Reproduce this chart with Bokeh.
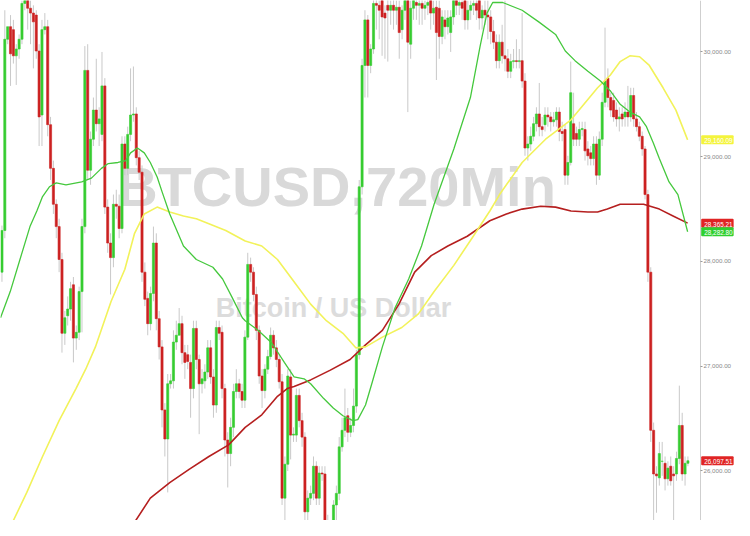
from bokeh.plotting import figure
from bokeh.models import (Range1d, FixedTicker, NumeralTickFormatter, Label, ColumnDataSource,
                          LinearAxis)
from bokeh.embed import file_html
from bokeh.resources import INLINE

# ---- candle data (BTCUSD, 720 min) ----
opens = [
 27897,28295,30120,30240,30212,29962,30027,30120,30462,30490,
 30416,30370,30351,30008,29397,30212,30240,29305,28888,28545,
 28332,28018,27314,27481,27545,27777,27268,27323,27712,28332,
 29823,28870,29166,29444,29314,29212,29675,28518,28175,28036,
 28545,28527,28314,29120,28888,29212,29397,29407,28990,28851,
 27897,27647,27406,27694,28175,27453,27184,26582,26305,26832,
 26860,27230,27295,27406,27129,27110,27036,26786,27360,27064,
 26832,26860,26944,27175,26897,26629,27369,27323,26786,26295,
 26166,26416,26758,26832,26758,26675,27277,27971,27897,27684,
 27342,26906,26767,26971,27092,27295,27175,27064,26851,25740,
 26064,26897,26342,26342,26721,26480,26323,25610,25740,25786,
 26045,25740,25980,25971,25527,25443,25397,25675,25786,26230,
 26388,26527,26369,26434,26619,27110,28712,29870,30305,29870,
 30027,30462,30444,30490,30370,30444,30397,30444,30397,30425,
 30212,30397,30490,30073,30416,30471,30444,30462,30416,30444,
 30490,30370,30425,30416,30147,30305,30240,30184,30333,30490,
 30444,30471,30490,30305,30397,30444,30462,30490,30323,30397,
 30351,30333,30194,30092,29916,30092,29962,29934,29814,29907,
 29916,29907,29916,29721,29082,29120,29194,29314,29407,29286,
 29305,29397,29379,29333,29351,29425,29240,29258,28823,28944,
 29314,29221,29166,29258,29258,29073,29036,28981,29120,28823,
 29166,29518,29749,29564,29536,29444,29360,29407,29379,29425,
 29379,29583,29360,29286,29194,29073,28638,27897,26388,25971,
 25934,26092,26073,25925,26045,25971,25971,26119,26434,25971,26073]
closes = [
 28295,30120,30240,29981,29962,30027,30120,30462,30490,30416,
 30370,30286,30008,29379,30212,30240,29305,28888,28545,28332,
 28018,27314,27462,27545,27740,27268,27323,27712,28332,29823,
 28870,29166,29444,29314,29360,29675,28518,28175,28036,28545,
 28527,28314,29120,28888,29212,29397,29407,28990,28851,27897,
 27638,27406,27694,28175,27453,27184,26582,26305,26832,26860,
 27230,27295,27406,27129,27036,27045,26786,27360,27064,26832,
 26879,26944,27175,26897,26629,27369,27314,26786,26295,26166,
 26416,26758,26832,26758,26675,27277,27971,27897,27684,27342,
 26906,26767,26971,27092,27295,27175,27064,26851,25740,26064,
 26906,26342,26351,26721,26480,26323,25610,25740,25786,26045,
 25740,25980,25971,25527,25443,25397,25675,25786,26230,26388,
 26508,26369,26434,26619,27110,28712,29870,30305,29870,30027,
 30462,30444,30397,30333,30323,30397,30444,30397,30425,30184,
 30397,30490,30092,30416,30490,30444,30462,30416,30444,30471,
 30370,30416,30184,30147,30333,30240,30323,30333,30490,30444,
 30471,30416,30305,30397,30444,30462,30397,30323,30397,30351,
 30333,30194,30092,29916,30092,29962,29934,29814,29907,29916,
 29907,29916,29721,29082,29120,29194,29314,29407,29286,29258,
 29397,29379,29333,29351,29425,29240,29221,28823,28944,29610,
 29166,29166,29258,29268,29055,29008,28981,29120,28823,29166,
 29518,29721,29564,29444,29379,29360,29379,29360,29425,29379,
 29583,29360,29286,29194,29073,28638,27897,26388,25971,25953,
 26166,26092,25925,26027,25906,25953,26119,26434,25971,26073,26097.51]
highs = [
 28342,30397,30166,30351,30305,30073,30166,30490,30536,30536,
 30490,30444,30397,30073,30305,30370,30305,29379,28962,28592,
 28407,28082,27527,27666,27805,27851,27388,27759,28407,30055,
 30073,29240,29564,29934,29471,29999,29749,28592,28268,28638,
 28684,28638,29194,29194,29286,29842,29860,29471,29055,28916,
 27990,27712,27759,28332,28268,27527,27249,26647,26925,26925,
 27342,27434,27555,27481,27203,27203,27110,27434,27434,27110,
 26971,27018,27249,27249,26971,27434,27434,27388,26832,26369,
 26508,26832,26971,26879,26832,27342,28082,28036,27944,27759,
 27388,26971,27018,27156,27369,27342,27249,27110,26925,26138,
 26971,26971,26416,26786,26786,26555,26369,25814,25860,26138,
 26092,26045,26045,26045,25582,25490,25721,25860,26323,26508,
 26786,26601,26508,26786,27156,28777,29934,30397,30351,30073,
 30536,30536,30490,30536,30444,30536,30490,30536,30490,30490,
 30444,30536,30536,30490,30536,30536,30536,30536,30490,30536,
 30536,30490,30490,30490,30397,30397,30397,30397,30536,30536,
 30536,30536,30536,30490,30490,30536,30536,30536,30444,30490,
 30490,30397,30305,30166,30166,30258,30490,30027,29981,30027,
 30120,30027,30370,29796,29194,29286,29379,29471,29703,29379,
 29471,29471,29425,29425,29471,29471,29333,29305,29008,29907,
 29610,29286,29333,29333,29333,29147,29101,29194,29194,29240,
 29610,30231,29842,29610,29610,29518,29471,29471,29518,29675,
 29657,29657,29425,29333,29240,29101,28684,27944,26462,26045,
 26277,26277,26138,26092,26138,26045,26184,26814,26555,26138,26138]
lows = [
 27805,28221,30073,29675,29888,29684,29934,30073,30397,30212,
 30073,29842,29934,29101,29101,30166,29194,28777,28453,28221,
 27897,27129,27203,27388,27434,27036,27156,27249,27323,28268,
 28777,28731,29101,29240,29101,29147,28453,28082,27684,27944,
 28407,28221,28268,28823,28823,29147,29333,28916,28777,27805,
 27573,27295,27342,27619,27342,27064,26416,26138,25795,26786,
 26786,27156,27342,27018,26879,26971,26508,26693,26971,26351,
 26740,26786,26879,26832,26508,26555,27249,26693,26138,25842,
 26045,26323,26693,26693,26601,26601,27249,27805,27619,27249,
 26832,26601,26693,26925,27064,27110,26990,26786,25675,25443,
 25999,26110,26277,26277,26416,26230,25527,25527,25675,25721,
 25675,25675,25906,25443,25304,25304,25304,25490,25721,26184,
 26323,26277,26323,26369,26555,27064,28638,29564,29564,29796,
 29981,30212,30120,29962,29934,29907,30258,30212,30258,29934,
 30120,30305,29425,29934,30305,30305,30258,30258,30305,30351,
 30212,30258,29731,29934,30073,30120,30166,29999,30258,30351,
 30351,30305,30212,30212,30305,30351,30305,30212,30212,30258,
 30120,30073,30027,29842,29842,29888,29814,29749,29749,29842,
 29842,29842,29657,29008,28962,29055,29147,29240,29194,29194,
 29240,29286,29240,29286,29286,29147,29147,28731,28731,28916,
 29101,29101,29101,29194,28962,28916,28916,28916,28731,28777,
 29101,29471,29471,29379,29333,29286,29240,29286,29286,29286,
 29333,29286,29240,29147,29008,28592,27805,26277,25527,25601,
 25860,25953,25814,25860,25860,25527,25906,26064,25906,25860,26045]

# ---- moving averages (candle index, price) ----
green_ma_x = [-0.5,2.9,6.3,9.8,12.2,14.2,16.6,19.0,22.4,27.9,31.3,34.8,37.2,40.6,43.3,45.0,47.4,49.8,
              51.9,54.3,56.0,58.7,63.5,68.0,73.8,77.2,80.7,84.1,85.1,89.6,94.4,98.8,102.2,105.7,108.0,
              112.5,115.9,119.3,122.8,124.5,127.2,129.6,133.1,137.5,142.3,146.8,151.2,158.1,163.9,167.3,
              169.7,171.7,175.2,182.0,187.8,193.7,197.1,200.5,205.0,209.4,212.8,216.3,219.7,223.1,225.5,
              227.9,230.0,233.4,236.5,239.9]
green_ma = [27462,27712,28018,28332,28481,28619,28712,28749,28731,28758,28795,28888,28934,28944,28962,
            29036,29082,29036,28944,28805,28666,28453,28147,28018,27944,27832,27647,27462,27434,27342,
            27221,27036,26897,26879,26832,26693,26601,26527,26480,26490,26629,26851,27184,27555,27832,
            28147,28545,29073,29564,30055,30370,30471,30471,30397,30286,30166,30008,29916,29814,29721,
            29629,29499,29425,29379,29286,29129,28981,28758,28638,28282.80]
yellow_ma_x = [4.0,8.7,14.2,20.0,25.9,29.3,32.7,38.2,43.0,46.4,49.8,54.3,58.7,63.5,68.0,72.4,78.3,85.1,
               90.9,96.4,102.2,108.0,113.5,119.3,123.8,127.2,133.1,139.9,145.7,151.2,158.1,164.9,170.7,
               174.1,182.0,190.2,199.1,208.4,212.8,216.3,219.7,223.1,226.5,231.3,235.8,239.9]
yellow_ma = [25527,25795,26138,26480,26786,26971,27184,27619,27925,28268,28453,28518,28471,28434,28407,
             28360,28295,28194,28147,28018,27805,27592,27434,27314,27175,27184,27277,27369,27499,27712,
             27962,28240,28481,28638,28944,29166,29351,29657,29777,29907,29962,29953,29870,29657,29444,
             29160.09]
red_ma_x = [46.8,51.9,58.7,65.6,72.4,79.3,85.1,90.9,96.4,99.8,102.2,108.0,114.9,121.8,127.2,133.1,138.9,
            144.4,150.2,156.0,162.8,170.7,176.5,182.0,188.5,193.7,199.1,205.0,208.4,211.8,216.3,224.5,
            230.0,234.8,239.9]
red_ma = [25527,25740,25888,26017,26138,26249,26416,26536,26712,26786,26805,26869,26962,27064,27203,
          27342,27592,27897,28055,28147,28240,28388,28453,28499,28527,28518,28481,28471,28471,28499,
          28545,28545,28499,28434,28365.21]

price_ticks = [26000, 27000, 28000, 29000, 30000]
title_text = "BTCUSD,720Min"
subtitle_text = "Bitcoin / US Dollar"

UP = "#36cc30"
DOWN = "#cc2121"
AXIS_AT = 244.4   # price scale sits just right of the last bars

idx = list(range(len(closes)))
tops = [max(o, c) for o, c in zip(opens, closes)]
bots = [min(o, c) for o, c in zip(opens, closes)]
cols = [UP if c >= o else DOWN for o, c in zip(opens, closes)]
src = ColumnDataSource(dict(x=idx, top=tops, bottom=bots, high=highs, low=lows, color=cols))

p = figure(width=734, height=520, output_backend="svg", toolbar_location=None,
           x_range=Range1d(-0.51, 256.3), y_range=Range1d(25527, 30490),
           x_axis_location=None, y_axis_location=None, min_border=0)
p.grid.visible = False
p.outline_line_color = None
p.background_fill_color = "white"

ax = LinearAxis(fixed_location=AXIS_AT)
ax.ticker = FixedTicker(ticks=price_ticks)
ax.formatter = NumeralTickFormatter(format="0,0.00")
ax.axis_line_color = "#cfcfcf"
ax.major_tick_line_color = "#9a9a9a"
ax.major_tick_out = 2
ax.major_tick_in = 0
ax.minor_tick_line_color = None
ax.major_label_standoff = 1
ax.major_label_text_font = "Liberation Sans"
ax.major_label_text_font_size = "6.2px"
ax.major_label_text_color = "#8a8a8a"
p.add_layout(ax, "right")

# watermark
p.add_layout(Label(x=336, y=334, x_units="screen", y_units="screen", text=title_text,
                   text_align="center", text_baseline="middle", text_font="Liberation Sans",
                   text_font_style="bold", text_font_size="56px", text_color="#d9d9d9", level="underlay"))
p.add_layout(Label(x=333, y=213, x_units="screen", y_units="screen", text=subtitle_text,
                   text_align="center", text_baseline="middle", text_font="Liberation Sans",
                   text_font_style="bold", text_font_size="27px", text_color="#dcdcdc", level="underlay"))

# candles
p.segment(x0="x", y0="low", x1="x", y1="high", source=src, line_color="#c9c9c9", line_width=1)
p.vbar(x="x", width=0.75, top="top", bottom="bottom", source=src,
       fill_color="color", line_color="color", line_width=0.6)

# moving averages
p.line(red_ma_x, red_ma, line_color="#b51f1f", line_width=1.6)
p.line(yellow_ma_x, yellow_ma, line_color="#f2f25a", line_width=1.6)
p.line(green_ma_x, green_ma, line_color="#45c83d", line_width=1.3)

# price tags on the axis
tags = [(yellow_ma[-1], "#f4f43c", "#ffffff"), (red_ma[-1], "#e02424", "#ffffff"),
        (green_ma[-1], "#2fcf2f", "#ffffff"), (closes[-1], "#e02424", "#ffffff")]
for val, bg, fg in tags:
    p.add_layout(Label(x=AXIS_AT + 0.25, y=val, text=f"{val:,.2f}", text_baseline="middle",
                       text_align="left", text_font="Liberation Sans",
                       text_font_size="6.4px", text_color=fg, background_fill_color=bg,
                       padding=(3, 1, 3, 1), border_radius=1, level="overlay"))

open("out.html", "w").write(file_html(p, INLINE))
